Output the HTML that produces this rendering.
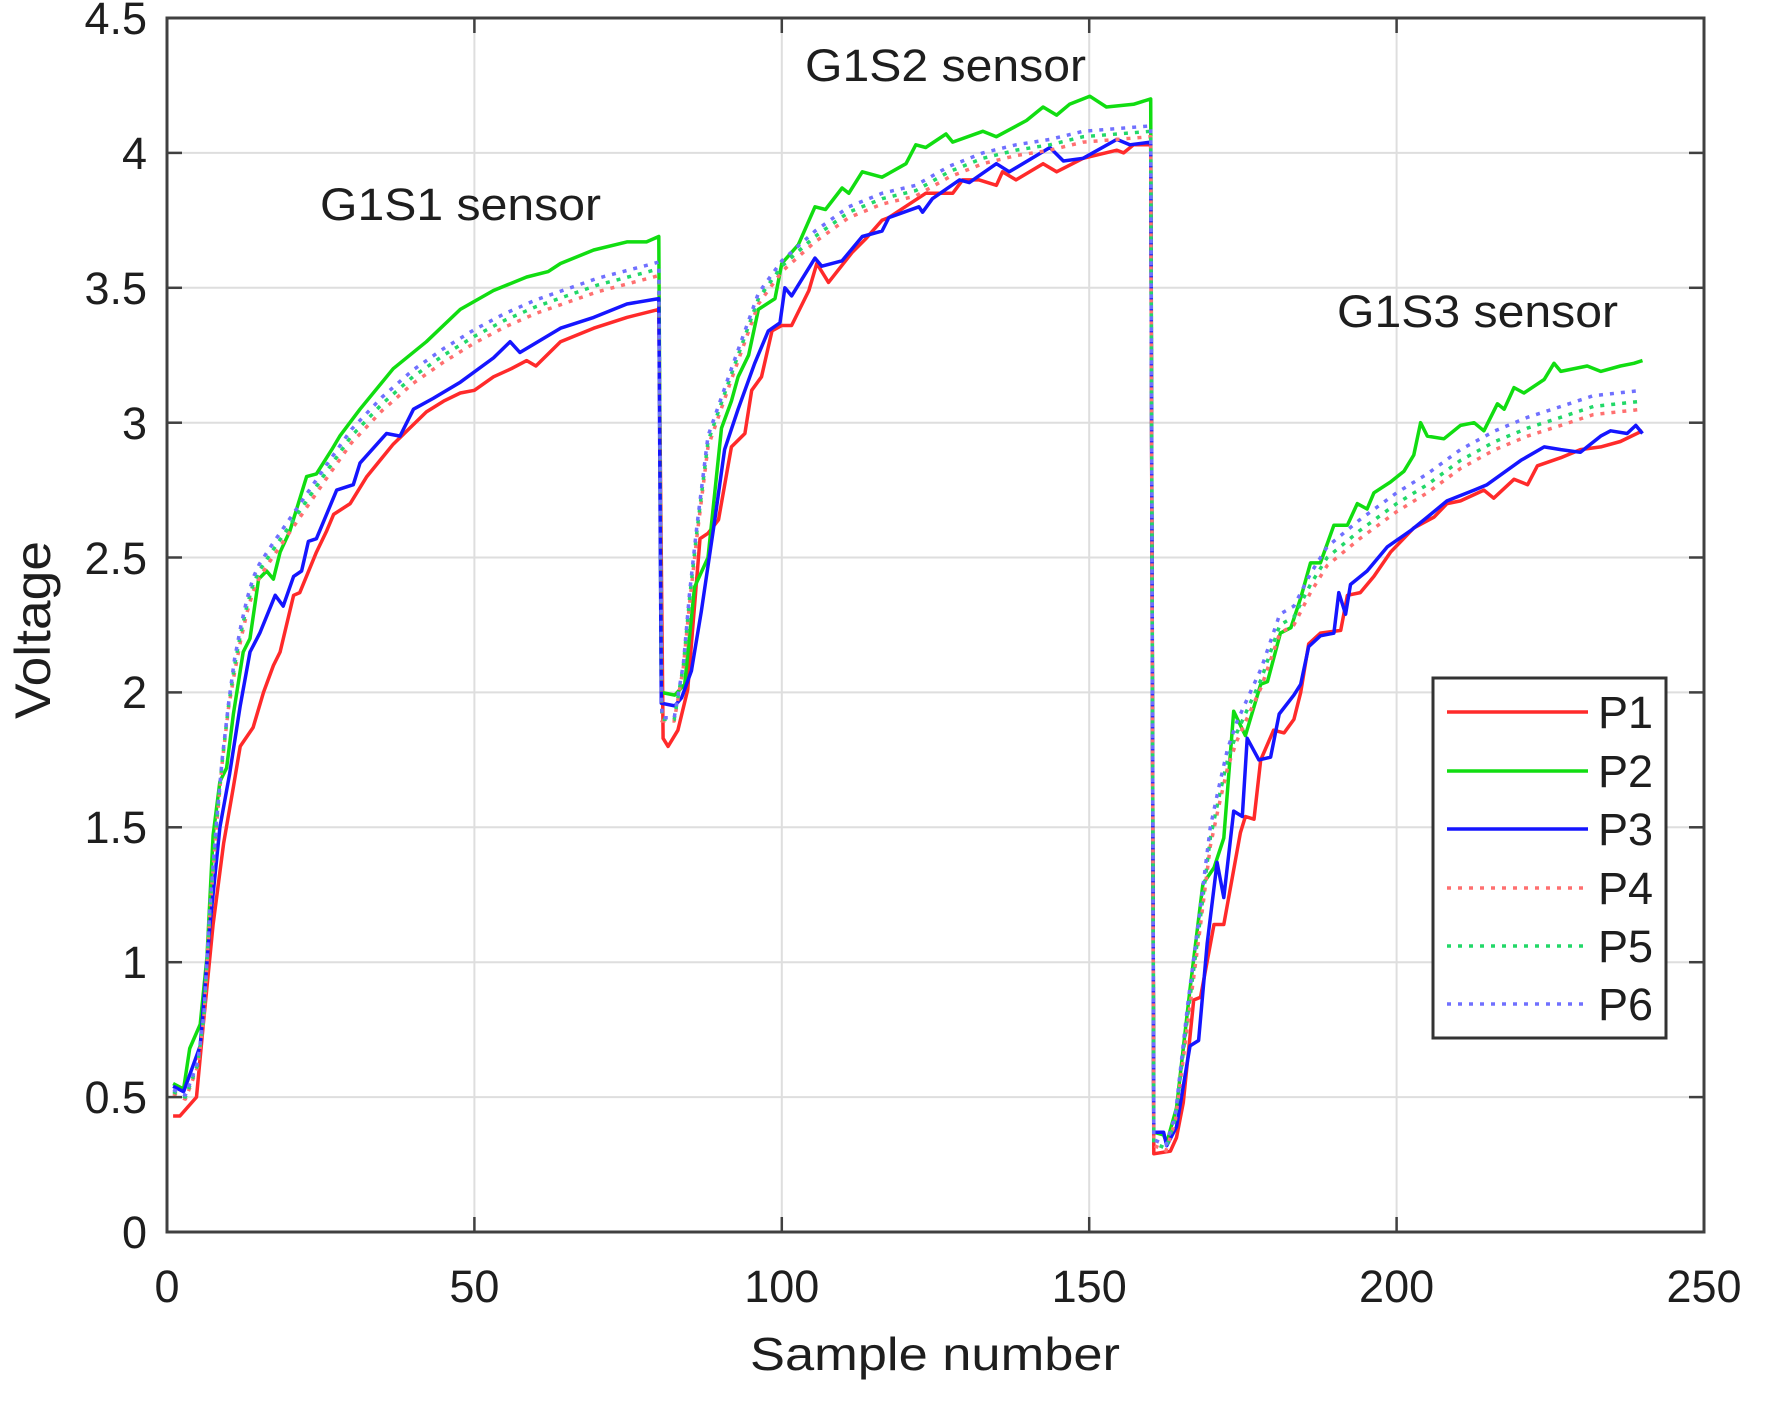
<!DOCTYPE html>
<html><head><meta charset="utf-8"><style>
html,body{margin:0;padding:0;background:#fff;}
svg{display:block;}
text{font-family:"Liberation Sans",Arial,sans-serif;fill:#1e1e1e;}
</style></head><body>
<svg id="c" width="1765" height="1411" viewBox="0 0 1765 1411" xmlns="http://www.w3.org/2000/svg">
<rect x="0" y="0" width="1765" height="1411" fill="#fff"/>
<g stroke="#dedede" stroke-width="2">
<line x1="474.4" y1="18" x2="474.4" y2="1232"/>
<line x1="781.8" y1="18" x2="781.8" y2="1232"/>
<line x1="1089.2" y1="18" x2="1089.2" y2="1232"/>
<line x1="1396.6" y1="18" x2="1396.6" y2="1232"/>
<line x1="167" y1="1097.1" x2="1704" y2="1097.1"/>
<line x1="167" y1="962.2" x2="1704" y2="962.2"/>
<line x1="167" y1="827.3" x2="1704" y2="827.3"/>
<line x1="167" y1="692.4" x2="1704" y2="692.4"/>
<line x1="167" y1="557.5" x2="1704" y2="557.5"/>
<line x1="167" y1="422.7" x2="1704" y2="422.7"/>
<line x1="167" y1="287.8" x2="1704" y2="287.8"/>
<line x1="167" y1="152.9" x2="1704" y2="152.9"/>
</g>
<g id="series" fill="none" stroke-linejoin="round"></g>
<g stroke="#404040" stroke-width="2.5">
<line x1="474.4" y1="1232" x2="474.4" y2="1217"/><line x1="781.8" y1="1232" x2="781.8" y2="1217"/>
<line x1="1089.2" y1="1232" x2="1089.2" y2="1217"/><line x1="1396.6" y1="1232" x2="1396.6" y2="1217"/>
<line x1="474.4" y1="18" x2="474.4" y2="33"/><line x1="781.8" y1="18" x2="781.8" y2="33"/>
<line x1="1089.2" y1="18" x2="1089.2" y2="33"/><line x1="1396.6" y1="18" x2="1396.6" y2="33"/>
<line x1="167" y1="1097.1" x2="182" y2="1097.1"/><line x1="167" y1="962.2" x2="182" y2="962.2"/>
<line x1="167" y1="827.3" x2="182" y2="827.3"/><line x1="167" y1="692.4" x2="182" y2="692.4"/>
<line x1="167" y1="557.5" x2="182" y2="557.5"/><line x1="167" y1="422.7" x2="182" y2="422.7"/>
<line x1="167" y1="287.8" x2="182" y2="287.8"/><line x1="167" y1="152.9" x2="182" y2="152.9"/>
<line x1="1704" y1="1097.1" x2="1689" y2="1097.1"/><line x1="1704" y1="962.2" x2="1689" y2="962.2"/>
<line x1="1704" y1="827.3" x2="1689" y2="827.3"/><line x1="1704" y1="692.4" x2="1689" y2="692.4"/>
<line x1="1704" y1="557.5" x2="1689" y2="557.5"/><line x1="1704" y1="422.7" x2="1689" y2="422.7"/>
<line x1="1704" y1="287.8" x2="1689" y2="287.8"/><line x1="1704" y1="152.9" x2="1689" y2="152.9"/>
</g>
<rect x="167" y="18" width="1537" height="1214" fill="none" stroke="#404040" stroke-width="3"/>
<g font-size="45" text-anchor="end">
<text x="147" y="1248">0</text>
<text x="147" y="1113">0.5</text>
<text x="147" y="978">1</text>
<text x="147" y="843">1.5</text>
<text x="147" y="708">2</text>
<text x="147" y="574">2.5</text>
<text x="147" y="439">3</text>
<text x="147" y="304">3.5</text>
<text x="147" y="169">4</text>
<text x="147" y="34">4.5</text>
</g>
<g font-size="45" text-anchor="middle">
<text x="167" y="1302">0</text>
<text x="474.4" y="1302">50</text>
<text x="781.8" y="1302">100</text>
<text x="1089.2" y="1302">150</text>
<text x="1396.6" y="1302">200</text>
<text x="1704" y="1302">250</text>
</g>
<text x="750" y="1370" font-size="46" textLength="370" lengthAdjust="spacingAndGlyphs">Sample number</text>
<text transform="translate(50,630) rotate(-90)" font-size="50" text-anchor="middle" textLength="178" lengthAdjust="spacingAndGlyphs">Voltage</text>
<text x="320" y="220" font-size="45" textLength="281" lengthAdjust="spacingAndGlyphs">G1S1 sensor</text>
<text x="805" y="81" font-size="45" textLength="281" lengthAdjust="spacingAndGlyphs">G1S2 sensor</text>
<text x="1337" y="327" font-size="45" textLength="281" lengthAdjust="spacingAndGlyphs">G1S3 sensor</text>
<rect x="1433" y="678" width="233" height="360" fill="#fff" stroke="#333" stroke-width="3"/>
<g stroke-width="3.5">
<line x1="1447" y1="712" x2="1588" y2="712" stroke="#ff2a2a"/>
<line x1="1447" y1="771" x2="1588" y2="771" stroke="#11dd11"/>
<line x1="1447" y1="829" x2="1588" y2="829" stroke="#1515ff"/>
<line x1="1447" y1="888" x2="1588" y2="888" stroke="#ff7070" stroke-dasharray="4 7"/>
<line x1="1447" y1="946" x2="1588" y2="946" stroke="#22d868" stroke-dasharray="4 7"/>
<line x1="1447" y1="1004" x2="1588" y2="1004" stroke="#7070ff" stroke-dasharray="4 7"/>
</g>
<g font-size="45">
<text x="1598" y="728">P1</text>
<text x="1598" y="787">P2</text>
<text x="1598" y="845">P3</text>
<text x="1598" y="904">P4</text>
<text x="1598" y="962">P5</text>
<text x="1598" y="1020">P6</text>
</g>
</svg>
<script>
(function(){
var X=function(s){return 167+s*6.148;},Y=function(v){return 1232-v*269.78;};
var P1=[[1,0.43],[2.1,0.43],[4.8,0.5],[5.9,0.77],[7.5,1.14],[9.2,1.44],[10.8,1.65],[11.9,1.8],[14,1.87],[15.7,2.0],[17.3,2.1],[18.4,2.15],[20.6,2.36],[21.6,2.37],[24.3,2.52],[26,2.6],[27.1,2.66],[29.8,2.7],[32.5,2.8],[36.8,2.92],[42.2,3.04],[45,3.08],[47.7,3.11],[50,3.12],[53.1,3.17],[56,3.2],[58.5,3.23],[60,3.21],[64,3.3],[69.4,3.35],[74.8,3.39],[80,3.42],
[80.7,1.83],[81.5,1.8],[83.1,1.86],[84.7,2.01],[86.7,2.57],[88,2.59],[89.7,2.64],[91.8,2.91],[94,2.96],[95.1,3.12],[96.7,3.17],[98.4,3.34],[100,3.36],[101.6,3.36],[104.4,3.49],[105.7,3.59],[107.6,3.52],[111.4,3.63],[113.6,3.68],[116.3,3.75],[117.4,3.76],[123.4,3.85],[127.8,3.85],[129.4,3.9],[132.1,3.9],[134.9,3.88],[135.9,3.93],[138.1,3.9],[142.5,3.96],[144.7,3.93],[149,3.98],[154.5,4.01],[155.6,4.0],[157.2,4.03],[160,4.03],
[160.5,0.29],[163.2,0.3],[164.2,0.35],[165.3,0.48],[167,0.86],[168.1,0.87],[170.3,1.14],[171.9,1.14],[174.6,1.48],[175.4,1.54],[176.8,1.53],[177.9,1.75],[180,1.86],[181.7,1.85],[183.3,1.9],[184.4,2.0],[185.7,2.18],[187.6,2.22],[190.9,2.23],[192,2.36],[194.1,2.37],[196.3,2.43],[199,2.52],[202.8,2.61],[206.1,2.65],[208.2,2.7],[210.4,2.71],[214.2,2.75],[215.8,2.72],[219.1,2.79],[221.3,2.77],[222.9,2.84],[226.7,2.87],[229.9,2.9],[233.2,2.91],[236.4,2.93],[240,2.97]];
var P2=[[1,0.55],[2.7,0.53],[3.7,0.68],[5.4,0.77],[6.5,1.02],[7.5,1.47],[8.6,1.67],[9.7,1.72],[10.8,1.92],[12.4,2.15],[13.5,2.2],[14.9,2.42],[16.2,2.45],[17.3,2.42],[18.4,2.52],[20,2.6],[22.7,2.8],[24.3,2.81],[26.8,2.9],[28.1,2.95],[31.4,3.05],[36.8,3.2],[42.2,3.3],[47.7,3.42],[53.1,3.49],[58.5,3.54],[62,3.56],[64,3.59],[69.4,3.64],[74.8,3.67],[78,3.67],[80,3.69],
[80.4,2.0],[82.6,1.99],[84.2,2.03],[85.8,2.39],[88,2.5],[90.2,2.98],[91.8,3.08],[92.9,3.17],[94.6,3.25],[96.2,3.42],[98.9,3.46],[100,3.59],[102.7,3.66],[105.4,3.8],[107.1,3.79],[109.8,3.87],[110.9,3.85],[113.1,3.93],[116.3,3.91],[120.2,3.96],[121.8,4.03],[123.4,4.02],[126.7,4.07],[127.8,4.04],[132.7,4.08],[134.9,4.06],[139.8,4.12],[142.5,4.17],[144.7,4.14],[146.8,4.18],[150.1,4.21],[152.8,4.17],[157.2,4.18],[160,4.2],
[160.5,0.37],[162.1,0.36],[162.6,0.33],[164.2,0.46],[166.4,0.9],[168.5,1.29],[170.3,1.35],[171.9,1.46],[173.5,1.93],[175.4,1.84],[177.9,2.03],[179,2.04],[181.1,2.22],[182.8,2.24],[184.4,2.35],[186,2.48],[187.6,2.48],[189.8,2.62],[192,2.62],[193.6,2.7],[195.2,2.68],[196.3,2.74],[199,2.78],[201.2,2.82],[202.8,2.88],[203.9,3.0],[205,2.95],[207.7,2.94],[210.4,2.99],[212.6,3.0],[214.2,2.97],[216.4,3.07],[217.5,3.05],[219.1,3.13],[220.7,3.11],[224,3.16],[225.6,3.22],[226.7,3.19],[231,3.21],[233.2,3.19],[236.4,3.21],[238.6,3.22],[240,3.23]];
var P3=[[1,0.54],[2.7,0.52],[5.4,0.69],[7,1.14],[8.6,1.5],[10.2,1.7],[11.9,1.95],[13.5,2.15],[15.1,2.22],[17.6,2.36],[18.9,2.32],[20.6,2.43],[21.9,2.45],[23,2.56],[24.3,2.57],[27.6,2.75],[30.3,2.77],[31.4,2.85],[35.7,2.96],[37.9,2.95],[40.1,3.05],[43.3,3.09],[47.7,3.15],[53.1,3.24],[55.8,3.3],[57.4,3.26],[64,3.35],[69.4,3.39],[74.8,3.44],[80,3.46],
[80.4,1.96],[82.6,1.95],[83.7,1.98],[85.3,2.08],[86.9,2.3],[89.1,2.64],[90.7,2.9],[92.9,3.05],[95.6,3.22],[97.8,3.34],[99.7,3.37],[100.5,3.5],[101.6,3.47],[105.4,3.61],[106.5,3.58],[109.8,3.6],[113.1,3.69],[116.3,3.71],[117.4,3.76],[122.3,3.8],[122.9,3.78],[124.5,3.83],[128.9,3.9],[130.5,3.89],[134.9,3.96],[137,3.93],[143.6,4.02],[145.8,3.97],[149,3.98],[154.5,4.05],[156.6,4.03],[160,4.04],
[160.5,0.37],[162.1,0.37],[162.6,0.32],[164.2,0.39],[166.4,0.69],[167.8,0.71],[169.2,1.07],[170.8,1.37],[171.9,1.24],[173.5,1.56],[174.9,1.54],[175.7,1.83],[177.6,1.75],[179.5,1.76],[180.9,1.92],[183.3,1.99],[184.4,2.03],[185.7,2.17],[187.6,2.21],[189.8,2.22],[190.6,2.37],[191.7,2.29],[192.5,2.4],[195.2,2.45],[198.5,2.54],[202.3,2.6],[205,2.65],[208.2,2.71],[212.6,2.75],[214.7,2.77],[220.2,2.86],[224,2.91],[226.7,2.9],[229.9,2.89],[233.2,2.95],[234.8,2.97],[237.5,2.96],[238.9,2.99],[240,2.96]];
var D1=[[1,0.52],[3,0.5],[5,0.62],[6,0.8],[7,1.2],[8,1.5],[9,1.75],[10,1.95],[11,2.1],[12,2.22],[13,2.32],[14,2.4],[15,2.45],[17,2.52],[20,2.62],[23,2.72],[26,2.82],[30,2.95],[35,3.07],[40,3.17],[45,3.25],[50,3.32],[55,3.38],[60,3.43],[65,3.47],[70,3.51],[75,3.54],[80,3.57]];
var D2=[[80.5,1.9],[82.5,1.9],[84,2.1],[85,2.35],[86.2,2.6],[88,2.93],[91.8,3.18],[96.2,3.46],[100,3.58],[105.4,3.69],[110.9,3.78],[116.3,3.83],[121.8,3.86],[127.2,3.93],[132.7,3.98],[138.1,4.01],[143.6,4.03],[149,4.06],[154.5,4.07],[160,4.08]];
var D3=[[160.5,0.33],[162.5,0.31],[164,0.42],[166,0.8],[168,1.15],[169.7,1.46],[171,1.6],[172.5,1.75],[174,1.85],[176,1.95],[178,2.05],[181,2.25],[183.3,2.28],[186,2.4],[188.7,2.5],[194,2.6],[200,2.7],[205,2.77],[210.4,2.86],[216,2.93],[221.3,2.98],[226.7,3.02],[232,3.06],[240,3.08]];
function off(a,o,skip){return a.map(function(p,i){return [p[0],p[1]+(i<skip?o*0.3:o)];});}
var P4=off(D1,-0.025,8).concat(off(D2,-0.02,3)).concat(off(D3,-0.03,3));
var P5=D1.concat(D2).concat(D3);
var P6=off(D1,0.025,8).concat(off(D2,0.02,3)).concat(off(D3,0.04,3));
function d(pts){return pts.map(function(p,i){return (i?'L':'M')+X(p[0]).toFixed(1)+' '+Y(p[1]).toFixed(1);}).join(' ');}
var g=document.getElementById('series');
var defs=[[P1,'#ff2a2a',null],[P2,'#11dd11',null],[P3,'#1515ff',null],[P4,'#ff7070','4 7'],[P5,'#22d868','4 7'],[P6,'#7070ff','4 7']];
defs.forEach(function(s){
var p=document.createElementNS('http://www.w3.org/2000/svg','path');
p.setAttribute('d',d(s[0]));p.setAttribute('stroke',s[1]);p.setAttribute('stroke-width','3.5');
if(s[2])p.setAttribute('stroke-dasharray',s[2]);
g.appendChild(p);});
})();
</script>
</body></html>
